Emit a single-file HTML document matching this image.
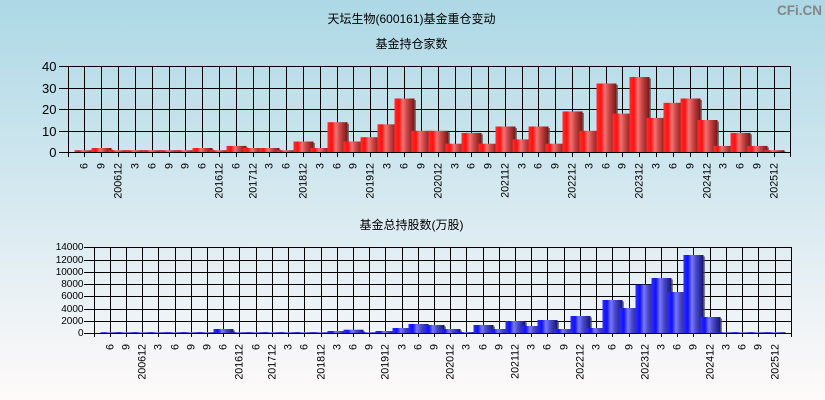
<!DOCTYPE html>
<html><head><meta charset="utf-8"><style>
html,body{margin:0;padding:0;width:825px;height:400px;overflow:hidden}
svg{display:block}
.t{font-family:"Liberation Sans","Noto Sans CJK SC",sans-serif;font-size:12px;fill:#000}
.yl{font-family:"Liberation Sans",sans-serif;font-size:13px;fill:#000;text-anchor:end;dominant-baseline:central}
.yl2{font-family:"Liberation Sans",sans-serif;font-size:10px;fill:#000;text-anchor:end;dominant-baseline:central}
.xl text{font-family:"Liberation Sans",sans-serif;font-size:10.7px;fill:#000;text-anchor:end;dominant-baseline:central}
.ln{stroke:#000;stroke-width:1;fill:none;shape-rendering:crispEdges}
.sh{fill:#555;opacity:.75}
</style></head><body>
<svg width="825" height="400" viewBox="0 0 825 400" xmlns="http://www.w3.org/2000/svg">
<defs>
<linearGradient id="bg" x1="0" y1="0" x2="0" y2="1"><stop offset="0" stop-color="#add8e6"/><stop offset="1" stop-color="#fffafa"/></linearGradient>
<linearGradient id="r" x1="0" y1="0" x2="1" y2="0"><stop offset="0" stop-color="#ff2e2e"/><stop offset="0.22" stop-color="#ff1010"/><stop offset="0.42" stop-color="#f07474"/><stop offset="0.62" stop-color="#cc4646"/><stop offset="1" stop-color="#781414"/></linearGradient>
<linearGradient id="b" x1="0" y1="0" x2="1" y2="0"><stop offset="0" stop-color="#2e2eff"/><stop offset="0.22" stop-color="#1010ff"/><stop offset="0.42" stop-color="#7878ff"/><stop offset="0.62" stop-color="#4a4acc"/><stop offset="1" stop-color="#141478"/></linearGradient>
</defs>
<rect x="0" y="0" width="825" height="400" fill="url(#bg)"/>

<text x="411.5" y="23" class="t" text-anchor="middle">天坛生物(600161)基金重仓变动</text>
<text x="411.5" y="48" class="t" text-anchor="middle">基金持仓家数</text>
<text x="411.5" y="229" class="t" text-anchor="middle">基金总持股数(万股)</text>
<text x="822" y="15" text-anchor="end" style="font-family:'Liberation Sans',sans-serif;font-weight:bold;font-size:13.5px;fill:#858585">CFi.CN</text>

<!-- TOP CHART grid -->
<g class="ln">
<path d="M68 88.5H790M68 109.5H790M68 131.5H790"/>
<path d="M84.5 66V152M101.5 66V152M118.5 66V152M135.5 66V152M152.5 66V152M169.5 66V152M185.5 66V152M202.5 66V152M219.5 66V152M236.5 66V152M253.5 66V152M269.5 66V152M286.5 66V152M303.5 66V152M320.5 66V152M337.5 66V152M353.5 66V152M370.5 66V152M387.5 66V152M404.5 66V152M421.5 66V152M438.5 66V152M455.5 66V152M471.5 66V152M488.5 66V152M505.5 66V152M522.5 66V152M538.5 66V152M555.5 66V152M572.5 66V152M589.5 66V152M606.5 66V152M622.5 66V152M639.5 66V152M656.5 66V152M673.5 66V152M690.5 66V152M707.5 66V152M723.5 66V152M740.5 66V152M757.5 66V152M774.5 66V152"/>
</g>
<!-- TOP bars -->
<g>
<rect class="sh" x="94.5" y="151.6" width="1.5" height="0.9"/><rect x="74.5" y="150.2" width="20" height="2.3" fill="url(#r)"/>
<rect class="sh" x="111.5" y="149.5" width="1.5" height="3"/><rect x="91.5" y="148" width="20" height="4.5" fill="url(#r)"/>
<rect class="sh" x="128.5" y="151.6" width="1.5" height="0.9"/><rect x="108.5" y="150.2" width="20" height="2.3" fill="url(#r)"/>
<rect class="sh" x="145.5" y="151.6" width="1.5" height="0.9"/><rect x="125.5" y="150.2" width="20" height="2.3" fill="url(#r)"/>
<rect class="sh" x="162.5" y="151.6" width="1.5" height="0.9"/><rect x="142.5" y="150.2" width="20" height="2.3" fill="url(#r)"/>
<rect class="sh" x="179.5" y="151.6" width="1.5" height="0.9"/><rect x="159.5" y="150.2" width="20" height="2.3" fill="url(#r)"/>
<rect class="sh" x="195.5" y="151.6" width="1.5" height="0.9"/><rect x="175.5" y="150.2" width="20" height="2.3" fill="url(#r)"/>
<rect class="sh" x="212.5" y="149.5" width="1.5" height="3"/><rect x="192.5" y="148" width="20" height="4.5" fill="url(#r)"/>
<rect class="sh" x="229.5" y="151.6" width="1.5" height="0.9"/><rect x="209.5" y="150.2" width="20" height="2.3" fill="url(#r)"/>
<rect class="sh" x="246.5" y="147.4" width="1.5" height="5.1"/><rect x="226.5" y="145.9" width="20" height="6.6" fill="url(#r)"/>
<rect class="sh" x="263.5" y="149.5" width="1.5" height="3"/><rect x="243.5" y="148" width="20" height="4.5" fill="url(#r)"/>
<rect class="sh" x="279.5" y="149.5" width="1.5" height="3"/><rect x="259.5" y="148" width="20" height="4.5" fill="url(#r)"/>
<rect class="sh" x="296.5" y="151.6" width="1.5" height="0.9"/><rect x="276.5" y="150.2" width="20" height="2.3" fill="url(#r)"/>
<rect class="sh" x="313.5" y="143" width="1.5" height="9.5"/><rect x="293.5" y="141.5" width="20" height="11" fill="url(#r)"/>
<rect class="sh" x="330.5" y="149.5" width="1.5" height="3"/><rect x="310.5" y="148" width="20" height="4.5" fill="url(#r)"/>
<rect class="sh" x="347.5" y="123.7" width="1.5" height="28.8"/><rect x="327.5" y="122.2" width="20" height="30.3" fill="url(#r)"/>
<rect class="sh" x="363.5" y="143" width="1.5" height="9.5"/><rect x="343.5" y="141.5" width="20" height="11" fill="url(#r)"/>
<rect class="sh" x="380.5" y="138.7" width="1.5" height="13.8"/><rect x="360.5" y="137.2" width="20" height="15.3" fill="url(#r)"/>
<rect class="sh" x="397.5" y="125.8" width="1.5" height="26.7"/><rect x="377.5" y="124.3" width="20" height="28.2" fill="url(#r)"/>
<rect class="sh" x="414.5" y="100" width="1.5" height="52.5"/><rect x="394.5" y="98.5" width="20" height="54" fill="url(#r)"/>
<rect class="sh" x="431.5" y="132.3" width="1.5" height="20.2"/><rect x="411.5" y="130.8" width="20" height="21.7" fill="url(#r)"/>
<rect class="sh" x="448.5" y="132.3" width="1.5" height="20.2"/><rect x="428.5" y="130.8" width="20" height="21.7" fill="url(#r)"/>
<rect class="sh" x="465.5" y="145.2" width="1.5" height="7.3"/><rect x="445.5" y="143.7" width="20" height="8.8" fill="url(#r)"/>
<rect class="sh" x="481.5" y="134.4" width="1.5" height="18.1"/><rect x="461.5" y="132.9" width="20" height="19.6" fill="url(#r)"/>
<rect class="sh" x="498.5" y="145.2" width="1.5" height="7.3"/><rect x="478.5" y="143.7" width="20" height="8.8" fill="url(#r)"/>
<rect class="sh" x="515.5" y="128" width="1.5" height="24.5"/><rect x="495.5" y="126.5" width="20" height="26" fill="url(#r)"/>
<rect class="sh" x="532.5" y="140.9" width="1.5" height="11.6"/><rect x="512.5" y="139.4" width="20" height="13.1" fill="url(#r)"/>
<rect class="sh" x="548.5" y="128" width="1.5" height="24.5"/><rect x="528.5" y="126.5" width="20" height="26" fill="url(#r)"/>
<rect class="sh" x="565.5" y="145.2" width="1.5" height="7.3"/><rect x="545.5" y="143.7" width="20" height="8.8" fill="url(#r)"/>
<rect class="sh" x="582.5" y="112.9" width="1.5" height="39.6"/><rect x="562.5" y="111.4" width="20" height="41.1" fill="url(#r)"/>
<rect class="sh" x="599.5" y="132.3" width="1.5" height="20.2"/><rect x="579.5" y="130.8" width="20" height="21.7" fill="url(#r)"/>
<rect class="sh" x="616.5" y="85" width="1.5" height="67.5"/><rect x="596.5" y="83.5" width="20" height="69" fill="url(#r)"/>
<rect class="sh" x="632.5" y="115.1" width="1.5" height="37.4"/><rect x="612.5" y="113.6" width="20" height="38.9" fill="url(#r)"/>
<rect class="sh" x="649.5" y="78.5" width="1.5" height="74"/><rect x="629.5" y="77" width="20" height="75.5" fill="url(#r)"/>
<rect class="sh" x="666.5" y="119.4" width="1.5" height="33.1"/><rect x="646.5" y="117.9" width="20" height="34.6" fill="url(#r)"/>
<rect class="sh" x="683.5" y="104.3" width="1.5" height="48.2"/><rect x="663.5" y="102.8" width="20" height="49.7" fill="url(#r)"/>
<rect class="sh" x="700.5" y="100" width="1.5" height="52.5"/><rect x="680.5" y="98.5" width="20" height="54" fill="url(#r)"/>
<rect class="sh" x="717.5" y="121.5" width="1.5" height="31"/><rect x="697.5" y="120" width="20" height="32.5" fill="url(#r)"/>
<rect class="sh" x="733.5" y="147.4" width="1.5" height="5.1"/><rect x="713.5" y="145.9" width="20" height="6.6" fill="url(#r)"/>
<rect class="sh" x="750.5" y="134.4" width="1.5" height="18.1"/><rect x="730.5" y="132.9" width="20" height="19.6" fill="url(#r)"/>
<rect class="sh" x="767.5" y="147.4" width="1.5" height="5.1"/><rect x="747.5" y="145.9" width="20" height="6.6" fill="url(#r)"/>
<rect class="sh" x="784.5" y="151.6" width="1.5" height="0.9"/><rect x="764.5" y="150.2" width="20" height="2.3" fill="url(#r)"/>
</g>
<!-- TOP frame, ticks -->
<g class="ln">
<path d="M68.5 66V152.5M790.5 66V152.5M68 66.5H791M68 152.5H791"/>
<path d="M59 66.5H68M59 88.5H68M59 109.5H68M59 131.5H68M59 152.5H68"/>
<path d="M68.5 152V157M84.5 152V157M101.5 152V157M118.5 152V157M135.5 152V157M152.5 152V157M169.5 152V157M185.5 152V157M202.5 152V157M219.5 152V157M236.5 152V157M253.5 152V157M269.5 152V157M286.5 152V157M303.5 152V157M320.5 152V157M337.5 152V157M353.5 152V157M370.5 152V157M387.5 152V157M404.5 152V157M421.5 152V157M438.5 152V157M455.5 152V157M471.5 152V157M488.5 152V157M505.5 152V157M522.5 152V157M538.5 152V157M555.5 152V157M572.5 152V157M589.5 152V157M606.5 152V157M622.5 152V157M639.5 152V157M656.5 152V157M673.5 152V157M690.5 152V157M707.5 152V157M723.5 152V157M740.5 152V157M757.5 152V157M774.5 152V157M790.5 152V157"/>
</g>
<text class="yl" x="56.5" y="66.5">40</text>
<text class="yl" x="56.5" y="88.5">30</text>
<text class="yl" x="56.5" y="109.5">20</text>
<text class="yl" x="56.5" y="131.5">10</text>
<text class="yl" x="56.5" y="152.5">0</text>
<g class="xl">
<text transform="translate(84.5,163) rotate(-90)">6</text>
<text transform="translate(101.5,163) rotate(-90)">9</text>
<text transform="translate(118.5,163) rotate(-90)">200612</text>
<text transform="translate(135.5,163) rotate(-90)">3</text>
<text transform="translate(152.5,163) rotate(-90)">6</text>
<text transform="translate(169.5,163) rotate(-90)">9</text>
<text transform="translate(185.5,163) rotate(-90)">9</text>
<text transform="translate(202.5,163) rotate(-90)">6</text>
<text transform="translate(219.5,163) rotate(-90)">201612</text>
<text transform="translate(236.5,163) rotate(-90)">6</text>
<text transform="translate(253.5,163) rotate(-90)">201712</text>
<text transform="translate(269.5,163) rotate(-90)">3</text>
<text transform="translate(286.5,163) rotate(-90)">6</text>
<text transform="translate(303.5,163) rotate(-90)">201812</text>
<text transform="translate(320.5,163) rotate(-90)">3</text>
<text transform="translate(337.5,163) rotate(-90)">6</text>
<text transform="translate(353.5,163) rotate(-90)">9</text>
<text transform="translate(370.5,163) rotate(-90)">201912</text>
<text transform="translate(387.5,163) rotate(-90)">3</text>
<text transform="translate(404.5,163) rotate(-90)">6</text>
<text transform="translate(421.5,163) rotate(-90)">9</text>
<text transform="translate(438.5,163) rotate(-90)">202012</text>
<text transform="translate(455.5,163) rotate(-90)">3</text>
<text transform="translate(471.5,163) rotate(-90)">6</text>
<text transform="translate(488.5,163) rotate(-90)">9</text>
<text transform="translate(505.5,163) rotate(-90)">202112</text>
<text transform="translate(522.5,163) rotate(-90)">3</text>
<text transform="translate(538.5,163) rotate(-90)">6</text>
<text transform="translate(555.5,163) rotate(-90)">9</text>
<text transform="translate(572.5,163) rotate(-90)">202212</text>
<text transform="translate(589.5,163) rotate(-90)">3</text>
<text transform="translate(606.5,163) rotate(-90)">6</text>
<text transform="translate(622.5,163) rotate(-90)">9</text>
<text transform="translate(639.5,163) rotate(-90)">202312</text>
<text transform="translate(656.5,163) rotate(-90)">3</text>
<text transform="translate(673.5,163) rotate(-90)">6</text>
<text transform="translate(690.5,163) rotate(-90)">9</text>
<text transform="translate(707.5,163) rotate(-90)">202412</text>
<text transform="translate(723.5,163) rotate(-90)">3</text>
<text transform="translate(740.5,163) rotate(-90)">6</text>
<text transform="translate(757.5,163) rotate(-90)">9</text>
<text transform="translate(774.5,163) rotate(-90)">202512</text>
</g>

<!-- BOTTOM CHART grid -->
<g class="ln">
<path d="M94 260.5H791M94 272.5H791M94 284.5H791M94 296.5H791M94 309.5H791M94 321.5H791"/>
<path d="M110.5 247V333M126.5 247V333M142.5 247V333M158.5 247V333M175.5 247V333M191.5 247V333M207.5 247V333M223.5 247V333M239.5 247V333M256.5 247V333M272.5 247V333M288.5 247V333M304.5 247V333M321.5 247V333M337.5 247V333M353.5 247V333M369.5 247V333M385.5 247V333M402.5 247V333M418.5 247V333M434.5 247V333M450.5 247V333M466.5 247V333M483.5 247V333M499.5 247V333M515.5 247V333M531.5 247V333M547.5 247V333M564.5 247V333M580.5 247V333M596.5 247V333M612.5 247V333M629.5 247V333M645.5 247V333M661.5 247V333M677.5 247V333M693.5 247V333M710.5 247V333M726.5 247V333M742.5 247V333M758.5 247V333M775.5 247V333"/>
</g>
<!-- BOTTOM bars -->
<g>
<rect x="100.5" y="332.2" width="20" height="1.3" fill="url(#b)"/>
<rect x="116.5" y="332.2" width="20" height="1.3" fill="url(#b)"/>
<rect x="132.5" y="332.2" width="20" height="1.3" fill="url(#b)"/>
<rect x="148.5" y="332.2" width="20" height="1.3" fill="url(#b)"/>
<rect x="165.5" y="332.2" width="20" height="1.3" fill="url(#b)"/>
<rect x="181.5" y="332.2" width="20" height="1.3" fill="url(#b)"/>
<rect x="197.5" y="332.2" width="20" height="1.3" fill="url(#b)"/>
<rect class="sh" x="233.5" y="330.5" width="1.5" height="3"/><rect x="213.5" y="329" width="20" height="4.5" fill="url(#b)"/>
<rect x="229.5" y="332.2" width="20" height="1.3" fill="url(#b)"/>
<rect x="246.5" y="332.2" width="20" height="1.3" fill="url(#b)"/>
<rect x="262.5" y="332.2" width="20" height="1.3" fill="url(#b)"/>
<rect x="278.5" y="332.2" width="20" height="1.3" fill="url(#b)"/>
<rect x="294.5" y="332.2" width="20" height="1.3" fill="url(#b)"/>
<rect x="311.5" y="332.2" width="20" height="1.3" fill="url(#b)"/>
<rect class="sh" x="347.5" y="332.3" width="1.5" height="1.2"/><rect x="327.5" y="331" width="20" height="2.5" fill="url(#b)"/>
<rect class="sh" x="363.5" y="331.2" width="1.5" height="2.3"/><rect x="343.5" y="329.7" width="20" height="3.8" fill="url(#b)"/>
<rect x="359.5" y="332.2" width="20" height="1.3" fill="url(#b)"/>
<rect class="sh" x="395.5" y="332.3" width="1.5" height="1.2"/><rect x="375.5" y="331" width="20" height="2.5" fill="url(#b)"/>
<rect class="sh" x="412.5" y="329.5" width="1.5" height="4"/><rect x="392.5" y="328" width="20" height="5.5" fill="url(#b)"/>
<rect class="sh" x="428.5" y="325.5" width="1.5" height="8"/><rect x="408.5" y="324" width="20" height="9.5" fill="url(#b)"/>
<rect class="sh" x="444.5" y="326.5" width="1.5" height="7"/><rect x="424.5" y="325" width="20" height="8.5" fill="url(#b)"/>
<rect class="sh" x="460.5" y="330.5" width="1.5" height="3"/><rect x="440.5" y="329" width="20" height="4.5" fill="url(#b)"/>
<rect x="456.5" y="332" width="20" height="1.5" fill="url(#b)"/>
<rect class="sh" x="493.5" y="326.5" width="1.5" height="7"/><rect x="473.5" y="325" width="20" height="8.5" fill="url(#b)"/>
<rect class="sh" x="509.5" y="330.5" width="1.5" height="3"/><rect x="489.5" y="329" width="20" height="4.5" fill="url(#b)"/>
<rect class="sh" x="525.5" y="322.5" width="1.5" height="11"/><rect x="505.5" y="321" width="20" height="12.5" fill="url(#b)"/>
<rect class="sh" x="541.5" y="327.5" width="1.5" height="6"/><rect x="521.5" y="326" width="20" height="7.5" fill="url(#b)"/>
<rect class="sh" x="557.5" y="321.5" width="1.5" height="12"/><rect x="537.5" y="320" width="20" height="13.5" fill="url(#b)"/>
<rect class="sh" x="574.5" y="330.5" width="1.5" height="3"/><rect x="554.5" y="329" width="20" height="4.5" fill="url(#b)"/>
<rect class="sh" x="590.5" y="317.5" width="1.5" height="16"/><rect x="570.5" y="316" width="20" height="17.5" fill="url(#b)"/>
<rect class="sh" x="606.5" y="329.5" width="1.5" height="4"/><rect x="586.5" y="328" width="20" height="5.5" fill="url(#b)"/>
<rect class="sh" x="622.5" y="301.5" width="1.5" height="32"/><rect x="602.5" y="300" width="20" height="33.5" fill="url(#b)"/>
<rect class="sh" x="639.5" y="309.5" width="1.5" height="24"/><rect x="619.5" y="308" width="20" height="25.5" fill="url(#b)"/>
<rect class="sh" x="655.5" y="286.2" width="1.5" height="47.3"/><rect x="635.5" y="284.7" width="20" height="48.8" fill="url(#b)"/>
<rect class="sh" x="671.5" y="279.5" width="1.5" height="54"/><rect x="651.5" y="278" width="20" height="55.5" fill="url(#b)"/>
<rect class="sh" x="687.5" y="293.5" width="1.5" height="40"/><rect x="667.5" y="292" width="20" height="41.5" fill="url(#b)"/>
<rect class="sh" x="703.5" y="256.5" width="1.5" height="77"/><rect x="683.5" y="255" width="20" height="78.5" fill="url(#b)"/>
<rect class="sh" x="720.5" y="318.5" width="1.5" height="15"/><rect x="700.5" y="317" width="20" height="16.5" fill="url(#b)"/>
<rect x="716.5" y="332.2" width="20" height="1.3" fill="url(#b)"/>
<rect x="732.5" y="332.2" width="20" height="1.3" fill="url(#b)"/>
<rect x="748.5" y="332.2" width="20" height="1.3" fill="url(#b)"/>
<rect x="765.5" y="332.2" width="20" height="1.3" fill="url(#b)"/>
</g>
<!-- BOTTOM frame, ticks -->
<g class="ln">
<path d="M94.5 247V333.5M791.5 247V333.5M94 247.5H792M94 333.5H792"/>
<path d="M84 247.5H94M84 260.5H94M84 272.5H94M84 284.5H94M84 296.5H94M84 309.5H94M84 321.5H94M84 333.5H94"/>
<path d="M94.5 333V337M110.5 333V337M126.5 333V337M142.5 333V337M158.5 333V337M175.5 333V337M191.5 333V337M207.5 333V337M223.5 333V337M239.5 333V337M256.5 333V337M272.5 333V337M288.5 333V337M304.5 333V337M321.5 333V337M337.5 333V337M353.5 333V337M369.5 333V337M385.5 333V337M402.5 333V337M418.5 333V337M434.5 333V337M450.5 333V337M466.5 333V337M483.5 333V337M499.5 333V337M515.5 333V337M531.5 333V337M547.5 333V337M564.5 333V337M580.5 333V337M596.5 333V337M612.5 333V337M629.5 333V337M645.5 333V337M661.5 333V337M677.5 333V337M693.5 333V337M710.5 333V337M726.5 333V337M742.5 333V337M758.5 333V337M775.5 333V337M791.5 333V337"/>
</g>
<text class="yl2" x="83.5" y="247.5">14000</text>
<text class="yl2" x="83.5" y="260.5">12000</text>
<text class="yl2" x="83.5" y="272.5">10000</text>
<text class="yl2" x="83.5" y="284.5">8000</text>
<text class="yl2" x="83.5" y="296.5">6000</text>
<text class="yl2" x="83.5" y="309.5">4000</text>
<text class="yl2" x="83.5" y="321.5">2000</text>
<text class="yl2" x="83.5" y="333.5">0</text>
<g class="xl">
<text transform="translate(110.5,344) rotate(-90)">6</text>
<text transform="translate(126.5,344) rotate(-90)">9</text>
<text transform="translate(142.5,344) rotate(-90)">200612</text>
<text transform="translate(158.5,344) rotate(-90)">3</text>
<text transform="translate(175.5,344) rotate(-90)">6</text>
<text transform="translate(191.5,344) rotate(-90)">9</text>
<text transform="translate(207.5,344) rotate(-90)">9</text>
<text transform="translate(223.5,344) rotate(-90)">6</text>
<text transform="translate(239.5,344) rotate(-90)">201612</text>
<text transform="translate(256.5,344) rotate(-90)">6</text>
<text transform="translate(272.5,344) rotate(-90)">201712</text>
<text transform="translate(288.5,344) rotate(-90)">3</text>
<text transform="translate(304.5,344) rotate(-90)">6</text>
<text transform="translate(321.5,344) rotate(-90)">201812</text>
<text transform="translate(337.5,344) rotate(-90)">3</text>
<text transform="translate(353.5,344) rotate(-90)">6</text>
<text transform="translate(369.5,344) rotate(-90)">9</text>
<text transform="translate(385.5,344) rotate(-90)">201912</text>
<text transform="translate(402.5,344) rotate(-90)">3</text>
<text transform="translate(418.5,344) rotate(-90)">6</text>
<text transform="translate(434.5,344) rotate(-90)">9</text>
<text transform="translate(450.5,344) rotate(-90)">202012</text>
<text transform="translate(466.5,344) rotate(-90)">3</text>
<text transform="translate(483.5,344) rotate(-90)">6</text>
<text transform="translate(499.5,344) rotate(-90)">9</text>
<text transform="translate(515.5,344) rotate(-90)">202112</text>
<text transform="translate(531.5,344) rotate(-90)">3</text>
<text transform="translate(547.5,344) rotate(-90)">6</text>
<text transform="translate(564.5,344) rotate(-90)">9</text>
<text transform="translate(580.5,344) rotate(-90)">202212</text>
<text transform="translate(596.5,344) rotate(-90)">3</text>
<text transform="translate(612.5,344) rotate(-90)">6</text>
<text transform="translate(629.5,344) rotate(-90)">9</text>
<text transform="translate(645.5,344) rotate(-90)">202312</text>
<text transform="translate(661.5,344) rotate(-90)">3</text>
<text transform="translate(677.5,344) rotate(-90)">6</text>
<text transform="translate(693.5,344) rotate(-90)">9</text>
<text transform="translate(710.5,344) rotate(-90)">202412</text>
<text transform="translate(726.5,344) rotate(-90)">3</text>
<text transform="translate(742.5,344) rotate(-90)">6</text>
<text transform="translate(758.5,344) rotate(-90)">9</text>
<text transform="translate(775.5,344) rotate(-90)">202512</text>
</g>
</svg>
</body></html>
